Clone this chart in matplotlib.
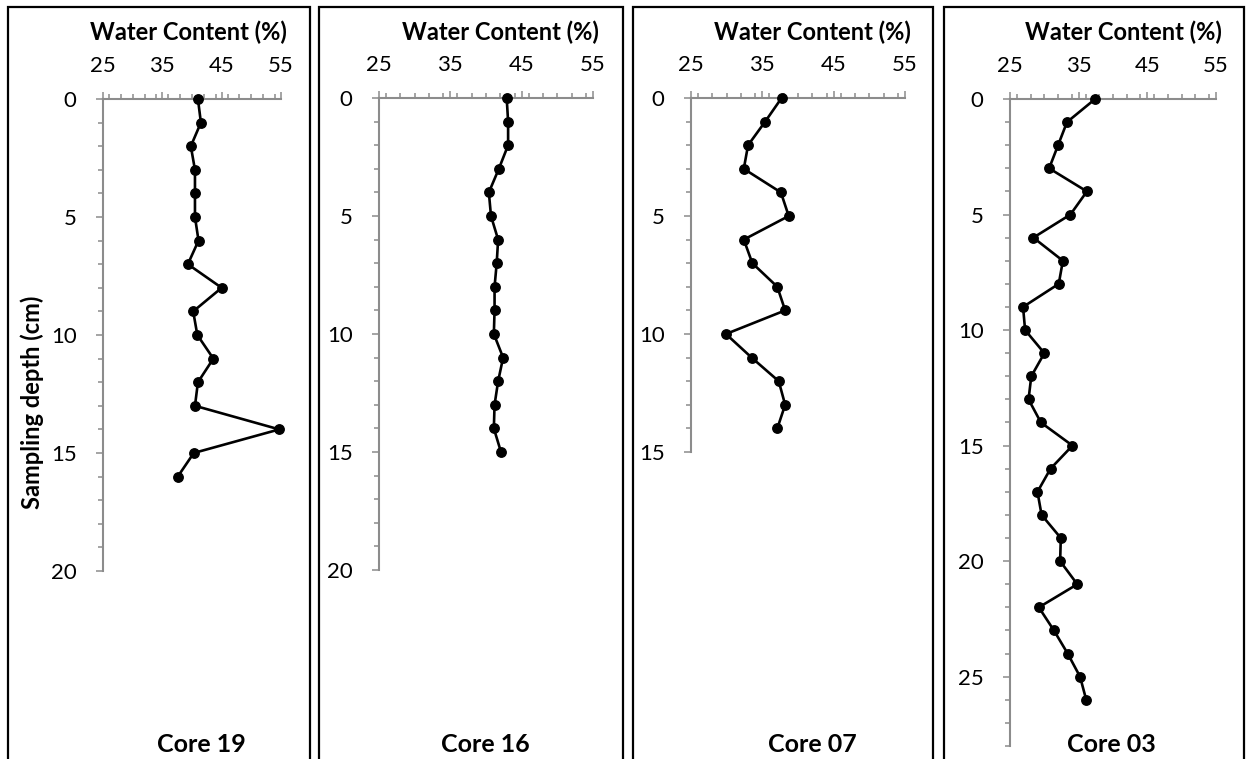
import matplotlib
matplotlib.use("Agg")
import matplotlib.pyplot as plt
from matplotlib.ticker import MultipleLocator, FixedLocator
from matplotlib.patches import Rectangle

plt.rcParams['font.family'] = ['Lato', 'DejaVu Sans']

# ---------------- data ----------------
core_names = ["Core 19", "Core 16", "Core 07", "Core 03"]

depth_19 = [0, 1, 2, 3, 4, 5, 6, 7, 8, 9, 10, 11, 12, 13, 14, 15, 16]
water_19 = [41.0, 41.5, 39.8, 40.5, 40.5, 40.5, 41.1, 39.3, 45.0, 40.2, 40.9,
            43.6, 41.0, 40.5, 54.7, 40.3, 37.6]

depth_16 = [0, 1, 2, 3, 4, 5, 6, 7, 8, 9, 10, 11, 12, 13, 14, 15]
water_16 = [42.9, 43.1, 43.1, 41.8, 40.4, 40.7, 41.7, 41.5, 41.2, 41.2, 41.1,
            42.4, 41.7, 41.2, 41.1, 42.1]

depth_07 = [0, 1, 2, 3, 4, 5, 6, 7, 8, 9, 10, 11, 12, 13, 14]
water_07 = [37.7, 35.4, 33.0, 32.4, 37.6, 38.7, 32.4, 33.6, 37.1, 38.2, 29.9,
            33.5, 37.3, 38.2, 37.1]

depth_03 = [0, 1, 2, 3, 4, 5, 6, 7, 8, 9, 10, 11, 12, 13, 14, 15, 16, 17, 18,
            19, 20, 21, 22, 23, 24, 25, 26]
water_03 = [37.4, 33.3, 32.0, 30.7, 36.2, 33.8, 28.4, 32.7, 32.1, 26.9, 27.2,
            30.0, 28.1, 27.7, 29.5, 34.1, 30.9, 29.0, 29.6, 32.4, 32.3, 34.8,
            29.2, 31.4, 33.4, 35.2, 36.1]

x_ticks = [25, 35, 45, 55]
depth_max = [20, 20, 15, 28]
depth_ticks = [[0, 5, 10, 15, 20], [0, 5, 10, 15, 20], [0, 5, 10, 15],
               [0, 5, 10, 15, 20, 25]]
x_title = "Water Content (%)"
y_title = "Sampling depth (cm)"

# ---------------- layout (pixels) ----------------
W, H = 1248, 759
fig = plt.figure(figsize=(W / 100, H / 100), dpi=100)

def fx(px):
    return px / W

def fy(py):
    return 1 - py / H

# plot areas: (left, right, top, bottom) in px
areas = [(103, 281, 99, 571),
         (379, 593, 98, 570),
         (691, 905, 98, 452),
         (1010, 1216, 99, 746)]
boxes = [(8, 310), (319, 623), (633, 933), (944, 1244)]
core_x = [201, 485, 812, 1111]

series = [(depth_19, water_19), (depth_16, water_16),
          (depth_07, water_07), (depth_03, water_03)]

axis_col = "#8c8c8c"

for i in range(4):
    l, r, t, b = areas[i]
    ax = fig.add_axes([fx(l), fy(b), (r - l) / W, (b - t) / H])
    d, w = series[i]
    ax.plot(w, d, color="black", lw=1.9, marker="o", ms=6.8,
            clip_on=False, zorder=5)
    ax.set_xlim(25, 55)
    ax.set_ylim(depth_max[i], 0)
    ax.xaxis.tick_top()
    ax.xaxis.set_major_locator(FixedLocator(x_ticks))
    ax.xaxis.set_minor_locator(MultipleLocator(2))
    ax.yaxis.set_major_locator(FixedLocator(depth_ticks[i]))
    ax.yaxis.set_minor_locator(MultipleLocator(1))
    for s in ["right", "bottom"]:
        ax.spines[s].set_visible(False)
    for s in ["left", "top"]:
        ax.spines[s].set_color(axis_col)
        ax.spines[s].set_linewidth(1.5)
    ax.tick_params(axis="both", which="major", length=5, width=1.1,
                   color=axis_col, labelsize=16, labelcolor="black")
    ax.tick_params(axis="both", which="minor", length=3.5, width=1.1,
                   color=axis_col)
    ax.tick_params(axis="x", which="major", pad=11.5)
    ax.tick_params(axis="y", which="major", pad=14)
    ax.patch.set_alpha(0)

    # title on top, right-aligned near axis end
    fig.text(fx(r + 6), fy(40), x_title, ha="right", va="baseline",
             fontsize=17, fontweight="bold")
    # core label at bottom
    fig.text(fx(core_x[i]), fy(752), core_names[i], ha="center",
             va="baseline", fontsize=18, fontweight="bold")

    # panel border (bottom runs off the picture)
    bx0, bx1 = boxes[i]
    fig.add_artist(Rectangle((fx(bx0), fy(H + 10)), fx(bx1 - bx0),
                             (H + 10 - 7) / H,
                             transform=fig.transFigure, fill=False,
                             edgecolor="black", lw=1.6, zorder=0))

fig.text(fx(32), fy(402), y_title, rotation=90, ha="center", va="center",
         fontsize=17, fontweight="bold")

fig.savefig("out.png", dpi=100)
